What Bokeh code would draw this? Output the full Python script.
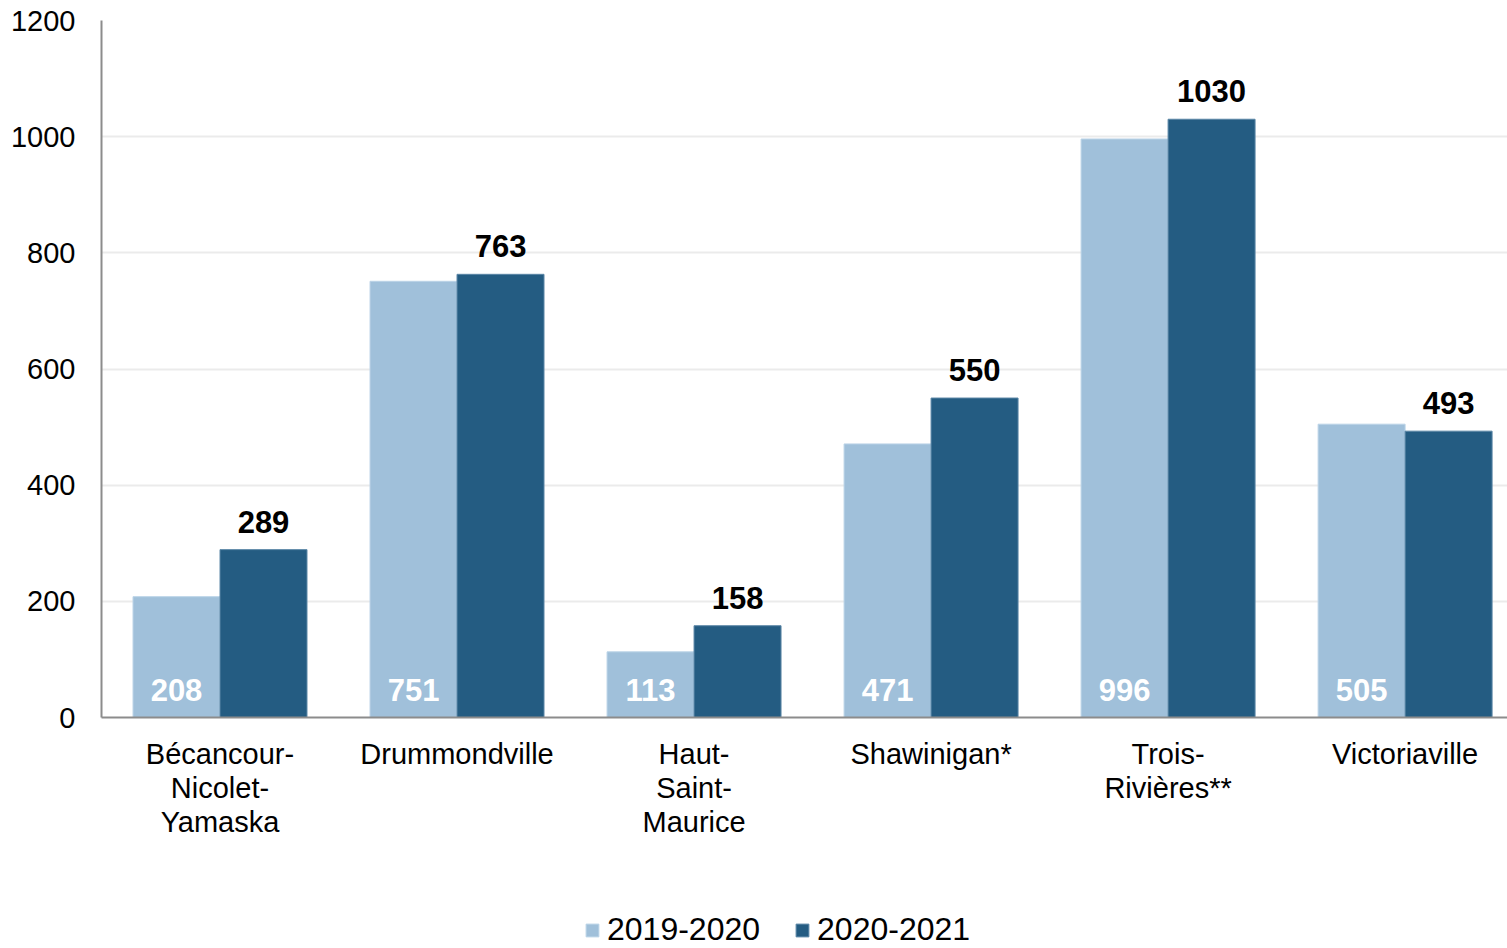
from bokeh.plotting import figure
from bokeh.models import (ColumnDataSource, Range1d, FixedTicker,
                          LabelSet, Legend, LegendItem)
from bokeh.layouts import column
from bokeh.core.properties import value
from bokeh.transform import dodge
from bokeh.embed import file_html
from bokeh.resources import INLINE

categories = ["Bécancour-\nNicolet-\nYamaska", "Drummondville", "Haut-\nSaint-\nMaurice",
              "Shawinigan*", "Trois-\nRivières**", "Victoriaville"]
series_names = ["2019-2020", "2020-2021"]
values_2019_2020 = [208, 751, 113, 471, 996, 505]
values_2020_2021 = [289, 763, 158, 550, 1030, 493]
y_ticks = [0, 200, 400, 600, 800, 1000, 1200]

LIGHT = "#A0C0DA"
DARK = "#245C82"
LIGHT_EDGE = "#BBD3E7"
DARK_EDGE = "#5A86A6"
FONT = "Liberation Sans"

positions = list(range(1, len(categories) + 1))

src = ColumnDataSource(dict(
    pos=positions,
    a=values_2019_2020,
    b=values_2020_2021,
    a_lbl=[str(v) for v in values_2019_2020],
    b_lbl=[str(v) for v in values_2020_2021],
    zero=[0] * len(categories),
))

# the original chart's plot area runs a little past the right edge of the page
x_range = Range1d(0.5, 0.5 + 5.932)

p = figure(x_range=x_range, y_range=Range1d(0, 1200),
           width=1507, height=862,
           output_backend="svg", toolbar_location=None,
           min_border_left=101, min_border_right=0,
           min_border_top=20, min_border_bottom=145)
p.outline_line_color = None
p.background_fill_color = "white"
p.border_fill_color = "white"

bw = 0.367
off = 0.1835
ra = p.vbar(x=dodge("pos", -off), top="a", width=bw, source=src,
            fill_color=LIGHT, line_color=LIGHT_EDGE, line_width=1)
rb = p.vbar(x=dodge("pos", off), top="b", width=bw, source=src,
            fill_color=DARK, line_color=DARK_EDGE, line_width=1)

# value labels
la = LabelSet(x=dodge("pos", -off), y="zero", text="a_lbl", source=src,
              y_offset=17, text_align="center", text_baseline="alphabetic",
              text_color="white", text_font=value(FONT), text_font_style="bold",
              text_font_size="31px")
lb = LabelSet(x=dodge("pos", off), y="b", text="b_lbl", source=src,
              y_offset=17, text_align="center", text_baseline="alphabetic",
              text_color="black", text_font=value(FONT), text_font_style="bold",
              text_font_size="31px")
p.add_layout(la)
p.add_layout(lb)

# axes
p.yaxis.ticker = FixedTicker(ticks=y_ticks)
p.yaxis.major_tick_line_color = None
p.yaxis.major_tick_out = 0
p.yaxis.minor_tick_line_color = None
p.yaxis.axis_line_color = "#8C8C8C"
p.yaxis.axis_line_width = 2
p.yaxis.major_label_text_font = FONT
p.yaxis.major_label_text_font_size = "29px"
p.yaxis.major_label_text_color = "black"
p.yaxis.major_label_standoff = 26

p.xaxis.ticker = FixedTicker(ticks=positions)
p.xaxis.major_label_overrides = {pos: cat for pos, cat in zip(positions, categories)}
p.xaxis.major_tick_line_color = None
p.xaxis.minor_tick_line_color = None
p.xaxis.axis_line_color = "#8C8C8C"
p.xaxis.axis_line_width = 2
p.xaxis.major_label_text_font = FONT
p.xaxis.major_label_text_font_size = "29px"
p.xaxis.major_label_text_line_height = 1.07
p.xaxis.major_label_text_color = "black"
p.xaxis.major_label_standoff = 14
p.xaxis.major_label_orientation = "horizontal"

p.xgrid.grid_line_color = None
p.ygrid.grid_line_color = "#EBEBEB"
p.ygrid.grid_line_width = 2

# legend strip below the chart (its bars fall outside its own range; only the legend shows)
q = figure(x_range=Range1d(0, 1), y_range=Range1d(0, 1),
           width=1507, height=86, output_backend="svg", toolbar_location=None,
           min_border=0)
q.axis.visible = False
q.grid.visible = False
q.outline_line_color = None
q.border_fill_color = "white"
qa = q.vbar(x="a", top="zero", bottom="zero", width=1, source=src,
            fill_color=LIGHT, line_color=LIGHT_EDGE)
qb = q.vbar(x="b", top="zero", bottom="zero", width=1, source=src,
            fill_color=DARK, line_color=DARK_EDGE)
legend = Legend(items=[LegendItem(label=series_names[0], renderers=[qa]),
                       LegendItem(label=series_names[1], renderers=[qb])],
                orientation="horizontal", location=(483, 0),
                padding=0, margin=0, spacing=34, label_standoff=7,
                glyph_width=16, glyph_height=16,
                label_text_font=FONT, label_text_font_size="32px",
                label_text_color="black", border_line_color=None,
                background_fill_alpha=0)
q.add_layout(legend, "center")

layout = column(p, q, spacing=0)
open("out.html", "w").write(file_html(layout, INLINE))
